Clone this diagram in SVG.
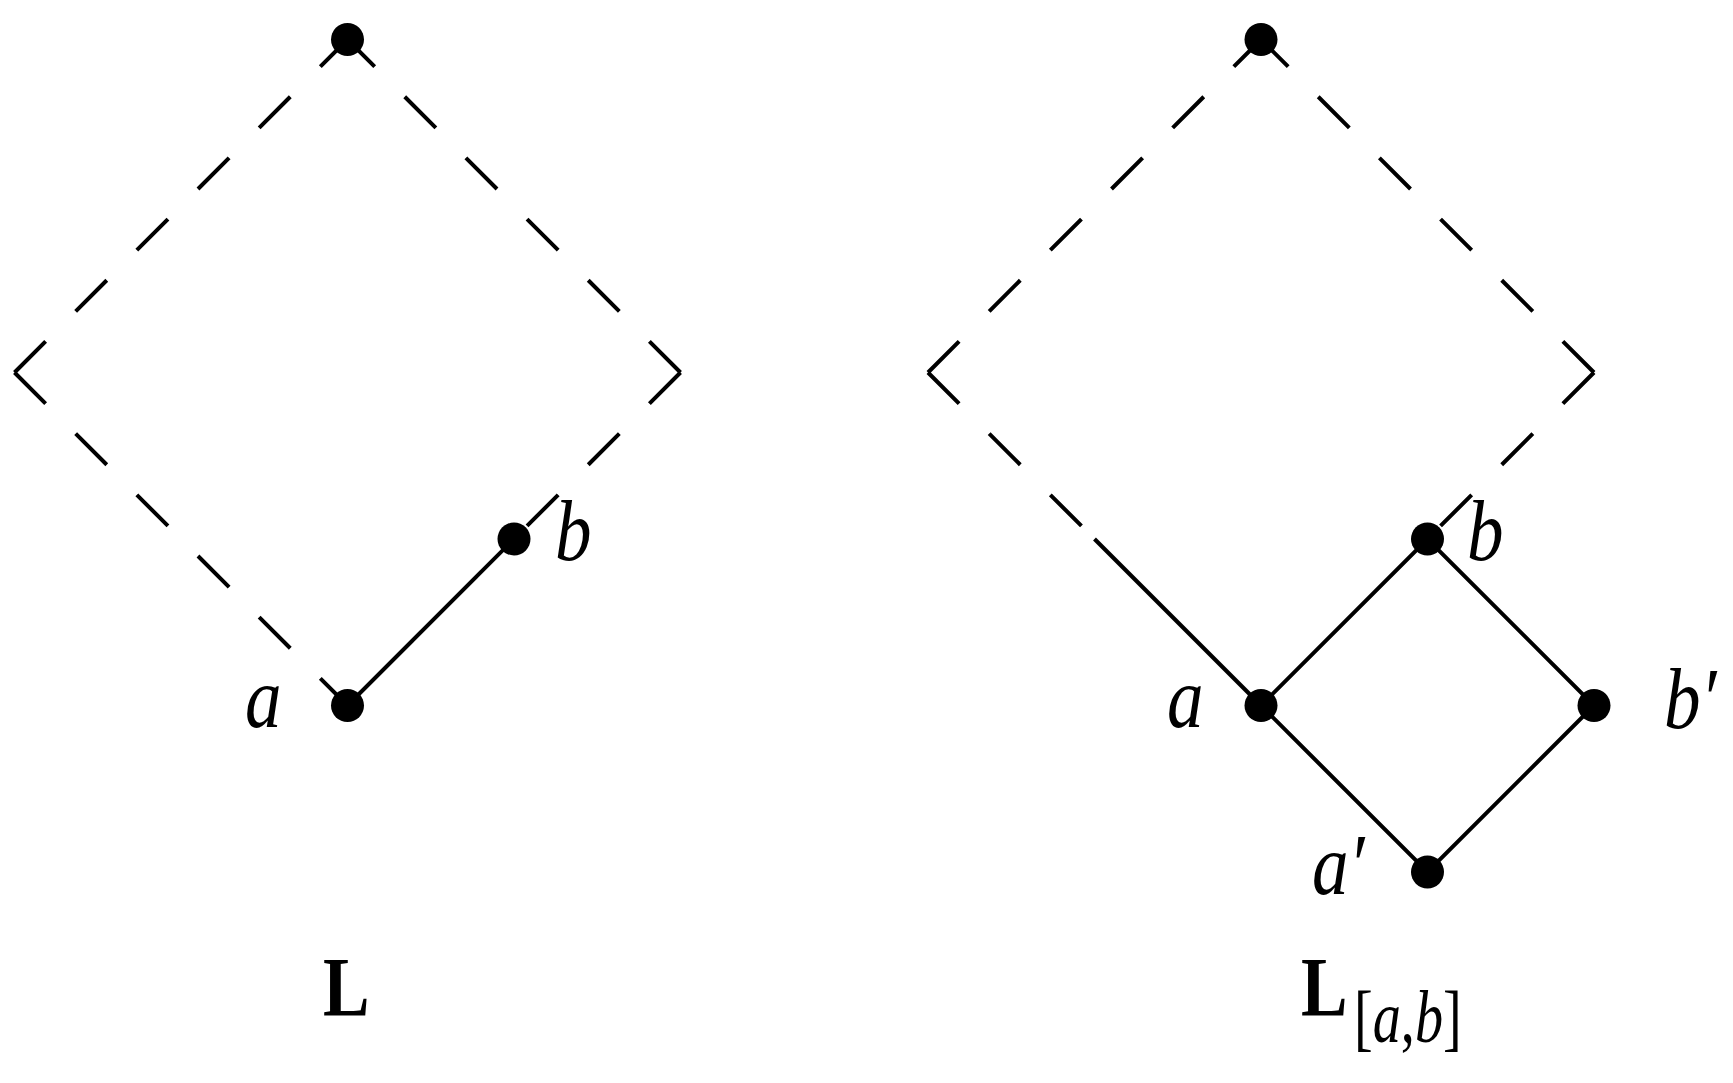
<svg xmlns="http://www.w3.org/2000/svg" width="1733" height="1083" viewBox="0 0 1733 1083">
<style>
.e{stroke:#000;stroke-width:4;fill:none;stroke-linecap:butt}
.d{stroke-dasharray:44 42.5}
.n{fill:#000}
.lab{font-family:"Liberation Serif","Times New Roman",serif;font-style:italic;font-size:86px;fill:#000}
.ttl{font-family:"Liberation Serif","Times New Roman",serif;font-weight:bold;font-size:85px;fill:#000}
.sub{font-family:"Liberation Serif","Times New Roman",serif;font-size:75px;fill:#000}
</style>
<rect width="1733" height="1083" fill="#fff"/>
<g id="connectors">
  <path class="e d" d="M14.5,372.5 L347.5,39.5"/>
  <path class="e d" d="M14.5,372.5 L347.5,705.5"/>
  <path class="e d" d="M680.5,372.5 L347.5,39.5"/>
  <path class="e d" d="M680.5,372.5 L514,539"/>
  <path class="e" d="M347.5,705.5 L514,539"/>
  <path class="e d" d="M928,372.5 L1261,39.5"/>
  <path class="e d" d="M928,372.5 L1094.5,539"/>
  <path class="e" d="M1094.5,539 L1261,705.5"/>
  <path class="e d" d="M1594,372.5 L1261,39.5"/>
  <path class="e d" d="M1594,372.5 L1427.5,539"/>
  <path class="e" d="M1261,705.5 L1427.5,539 L1594,705.5 L1427.5,872 Z"/>
</g>
<g id="L-top"><circle class="n" cx="347.5" cy="39.5" r="16.5"/></g>
<g id="L-a"><circle class="n" cx="347.5" cy="705.5" r="16.5"/><text class="lab" transform="translate(245,727) scale(0.85,1)">a</text></g>
<g id="L-b"><circle class="n" cx="514" cy="539" r="16.5"/><text class="lab" transform="translate(555,560) scale(0.85,1)">b</text></g>
<g id="L-title"><text class="ttl" transform="translate(323,1016) scale(0.82,1)">L</text></g>
<g id="R-top"><circle class="n" cx="1261" cy="39.5" r="16.5"/></g>
<g id="R-a"><circle class="n" cx="1261" cy="705.5" r="16.5"/><text class="lab" transform="translate(1167,727) scale(0.85,1)">a</text></g>
<g id="R-b"><circle class="n" cx="1427.5" cy="539" r="16.5"/><text class="lab" transform="translate(1467,560) scale(0.85,1)">b</text></g>
<g id="R-bp"><circle class="n" cx="1594" cy="705.5" r="16.5"/><text class="lab" transform="translate(1664,728) scale(0.85,1)">b′</text></g>
<g id="R-ap"><circle class="n" cx="1427.5" cy="872" r="16.5"/><text class="lab" transform="translate(1312,894) scale(0.85,1)">a′</text></g>
<g id="R-title">
  <text class="ttl" transform="translate(1301,1016) scale(0.82,1)">L</text>
  <text class="sub" transform="translate(1354,1042) scale(0.75,1)">[<tspan font-style="italic">a</tspan>,<tspan font-style="italic">b</tspan>]</text>
</g>
</svg>
